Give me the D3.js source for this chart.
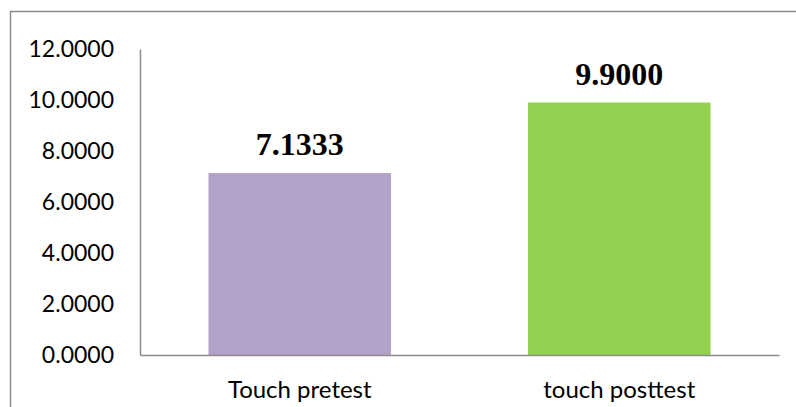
<!DOCTYPE html>
<html>
<head>
<meta charset="utf-8">
<script src="https://cdn.jsdelivr.net/npm/d3@7"></script>
<style>
  body { margin: 0; background: #fff; }
  svg { display: block; }
</style>
</head>
<body>
<div class="chart"></div>
<script>
const categories = ["Touch pretest", "touch posttest"]
const values = [7.1333, 9.9]
const barColors = ["#b3a2c7", "#92d050"]
const yTicks = [0, 2, 4, 6, 8, 10, 12]

const width = 796
const height = 407
const margin = { left: 140, right: 17, top: 49, bottom: 52 }

const $svg = d3.select(".chart").append("svg")
  .attr("width", width)
  .attr("height", height)

// outer frame (runs off the right and bottom edges)
$svg.append("rect")
  .attr("x", 10.5).attr("y", 11.5)
  .attr("width", width + 20).attr("height", height + 20)
  .attr("fill", "none")
  .attr("stroke", "#8c8c8c")
  .attr("stroke-width", 1.5)

const x = d3.scaleBand()
  .domain(categories)
  .range([margin.left, width - margin.right])
  .paddingInner(0.4286)
  .paddingOuter(0.2143)

const y = d3.scaleLinear()
  .domain([0, 12])
  .range([height - margin.bottom, margin.top])

// y axis
const yAxis = d3.axisLeft(y).tickValues(yTicks).tickSize(0).tickPadding(26)
  .tickFormat(d3.format(".4f"))
const $y = $svg.append("g")
  .attr("transform", `translate(${margin.left},0)`)
  .call(yAxis)
$y.select(".domain").attr("stroke", "#8c8c8c").attr("stroke-width", 1.5)
$y.selectAll("text")
  .attr("font-family", "Lato, 'Open Sans', sans-serif")
  .attr("font-size", 23)
  .attr("fill", "#000")

// bars
$svg.append("g").selectAll("rect")
  .data(values)
  .join("rect")
  .attr("x", (d, i) => x(categories[i]))
  .attr("y", d => y(d))
  .attr("width", x.bandwidth())
  .attr("height", d => y(0) - y(d))
  .attr("fill", (d, i) => barColors[i])

// x axis
const xAxis = d3.axisBottom(x).tickSize(0).tickPadding(26)
const $x = $svg.append("g")
  .attr("transform", `translate(0,${y(0)})`)
  .call(xAxis)
$x.select(".domain").attr("stroke", "#8c8c8c").attr("stroke-width", 1.5)
$x.selectAll("text")
  .attr("font-family", "Lato, 'Open Sans', sans-serif")
  .attr("font-size", 24)
  .attr("fill", "#000")

// value labels
$svg.append("g").selectAll("text")
  .data(values)
  .join("text")
  .attr("x", (d, i) => x(categories[i]) + x.bandwidth() / 2)
  .attr("y", d => y(d) - 18)
  .attr("text-anchor", "middle")
  .attr("font-family", "'Liberation Serif', 'Times New Roman', serif")
  .attr("font-weight", "bold")
  .attr("font-size", 32)
  .attr("fill", "#000")
  .text(d => d3.format(".4f")(d))
</script>
</body>
</html>
